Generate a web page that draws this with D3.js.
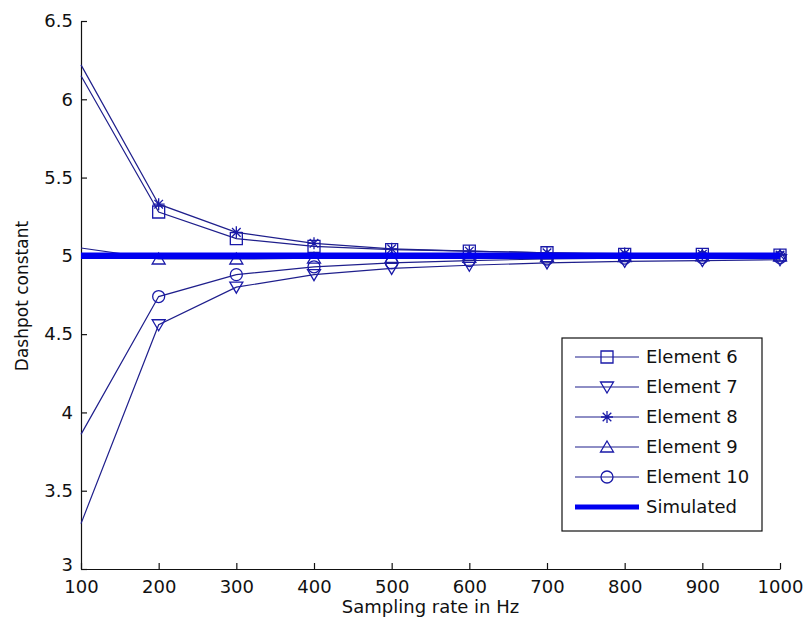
<!DOCTYPE html>
<html>
<head>
<meta charset="utf-8">
<script src="https://cdn.jsdelivr.net/npm/d3@7"></script>
<style>
  html, body { margin: 0; padding: 0; background: #fff; }
  svg { display: block; }
  text { font-family: "DejaVu Sans", sans-serif; fill: #111; }
</style>
</head>
<body>
<svg id="chart" width="804" height="629"></svg>
<script>
// Sampling rates (Hz)
const rates = [100, 200, 300, 400, 500, 600, 700, 800, 900, 1000];

// Identified dashpot constants per element
const element6  = [6.15, 5.28, 5.11, 5.06, 5.04, 5.03, 5.02, 5.01, 5.01, 5.005];
const element7  = [3.29, 4.56, 4.80, 4.88, 4.92, 4.94, 4.955, 4.965, 4.97, 4.975];
const element8  = [6.22, 5.33, 5.15, 5.08, 5.045, 5.03, 5.02, 5.015, 5.01, 5.005];
const element9  = [5.05, 4.98, 4.98, 4.985, 4.99, 4.99, 4.995, 4.995, 5.0, 5.0];
const element10 = [3.86, 4.74, 4.88, 4.93, 4.955, 4.97, 4.98, 4.985, 4.99, 4.99];
const simulated = [5, 5, 5, 5, 5, 5, 5, 5, 5, 5];

const yTicks = [3, 3.5, 4, 4.5, 5, 5.5, 6, 6.5];
const xTicks = rates;

const seriesNames = ["Element 6", "Element 7", "Element 8", "Element 9", "Element 10", "Simulated"];
const seriesValues = [element6, element7, element8, element9, element10, simulated];
const seriesMarkers = ["square", "triangleDown", "asterisk", "triangleUp", "circle", null];

const thinColor = "#1f1f8c";
const markerColor = "#1a1aa8";
const thickColor = "#0000f0";

const svg = d3.select("#chart");
const margin = { left: 81, right: 24, top: 21, bottom: 60 };
const W = 804, H = 629;

const x = d3.scaleLinear().domain([100, 1000]).range([margin.left, W - margin.right]);
const y = d3.scaleLinear().domain([3, 6.5]).range([H - margin.bottom, margin.top]);

// Marker shapes centred on (0,0)
function markerPath(kind) {
  const p = d3.path();
  if (kind === "square") {
    const s = 6;
    p.rect(-s, -s, 2 * s, 2 * s);
  } else if (kind === "triangleUp") {
    p.moveTo(0, -6); p.lineTo(6.5, 5); p.lineTo(-6.5, 5); p.closePath();
  } else if (kind === "triangleDown") {
    p.moveTo(0, 6); p.lineTo(6.5, -5); p.lineTo(-6.5, -5); p.closePath();
  } else if (kind === "circle") {
    p.moveTo(6, 0); p.arc(0, 0, 6, 0, 2 * Math.PI);
  } else if (kind === "asterisk") {
    const r = 6, d = 4.3;
    p.moveTo(0, -r); p.lineTo(0, r);
    p.moveTo(-d, -d); p.lineTo(d, d);
    p.moveTo(-d, d); p.lineTo(d, -d);
    p.moveTo(-r, 0); p.lineTo(r, 0);
  }
  return p.toString();
}

// Axes: left and bottom only, ticks pointing inward
const xAxis = d3.axisBottom(x).tickValues(xTicks).tickSizeInner(-6).tickSizeOuter(0)
  .tickFormat(d3.format("d")).tickPadding(11);
const yAxis = d3.axisLeft(y).tickValues(yTicks).tickSizeInner(-6).tickSizeOuter(0)
  .tickFormat(d => String(d)).tickPadding(8);

const gx = svg.append("g").attr("transform", `translate(0,${H - margin.bottom})`).call(xAxis);
const gy = svg.append("g").attr("transform", `translate(${margin.left},0)`).call(yAxis);
[gx, gy].forEach(g => {
  g.select(".domain").attr("stroke", "#111").attr("stroke-width", 1.2);
  g.selectAll(".tick line").attr("stroke", "#111").attr("stroke-width", 1.2);
  g.selectAll(".tick text").attr("font-size", 18).attr("font-family", "DejaVu Sans").attr("fill", "#111");
});
gx.selectAll(".tick text").attr("dy", "0.71em");
// the lowest y label sits a little higher so it clears the first x label
gy.selectAll(".tick text").filter(d => d === 3).attr("dy", "0.1em");

// Axis titles
svg.append("text").attr("x", (margin.left + W - margin.right) / 2).attr("y", 613)
  .attr("text-anchor", "middle").attr("font-size", 18).text("Sampling rate in Hz");
svg.append("text").attr("transform", "translate(28,296) rotate(-90)")
  .attr("text-anchor", "middle").attr("font-size", 17).text("Dashpot constant");

const line = d3.line().x((d, i) => x(rates[i])).y(d => y(d));
const plot = svg.append("g");

// Element series: thin lines with hollow markers (the 100 Hz point sits on the axis, no marker)
seriesValues.slice(0, 5).forEach((vals, k) => {
  plot.append("path").datum(vals).attr("d", line)
    .attr("fill", "none").attr("stroke", thinColor).attr("stroke-width", 1.2);
  plot.selectAll(null).data(vals.map((v, i) => ({ v, i })).filter(d => d.i > 0)).enter().append("path")
    .attr("d", markerPath(seriesMarkers[k]))
    .attr("transform", d => `translate(${x(rates[d.i])},${y(d.v)})`)
    .attr("fill", "none").attr("stroke", markerColor).attr("stroke-width", 1.3);
});

// Simulated reference: thick line drawn on top
plot.append("path").datum(simulated).attr("d", line)
  .attr("fill", "none").attr("stroke", thickColor).attr("stroke-width", 6.5);

// Legend
const lg = svg.append("g");
const lgX = 562, lgY = 338, lgW = 200, lgH = 193;
lg.append("rect").attr("x", lgX).attr("y", lgY).attr("width", lgW).attr("height", lgH)
  .attr("fill", "#fff").attr("stroke", "#111").attr("stroke-width", 1.2);
seriesNames.forEach((name, k) => {
  const cy = lgY + 19 + k * 30;
  const g = lg.append("g");
  if (seriesMarkers[k]) {
    g.append("line").attr("x1", lgX + 13).attr("x2", lgX + 77).attr("y1", cy).attr("y2", cy)
      .attr("stroke", thinColor).attr("stroke-width", 1.2);
    g.append("path").attr("d", markerPath(seriesMarkers[k]))
      .attr("transform", `translate(${lgX + 45},${cy})`)
      .attr("fill", "none").attr("stroke", markerColor).attr("stroke-width", 1.3);
  } else {
    g.append("line").attr("x1", lgX + 13).attr("x2", lgX + 77).attr("y1", cy).attr("y2", cy)
      .attr("stroke", thickColor).attr("stroke-width", 5);
  }
  g.append("text").attr("x", lgX + 84).attr("y", cy).attr("dy", "0.36em")
    .attr("font-size", 18).text(name);
});
</script>
</body>
</html>
